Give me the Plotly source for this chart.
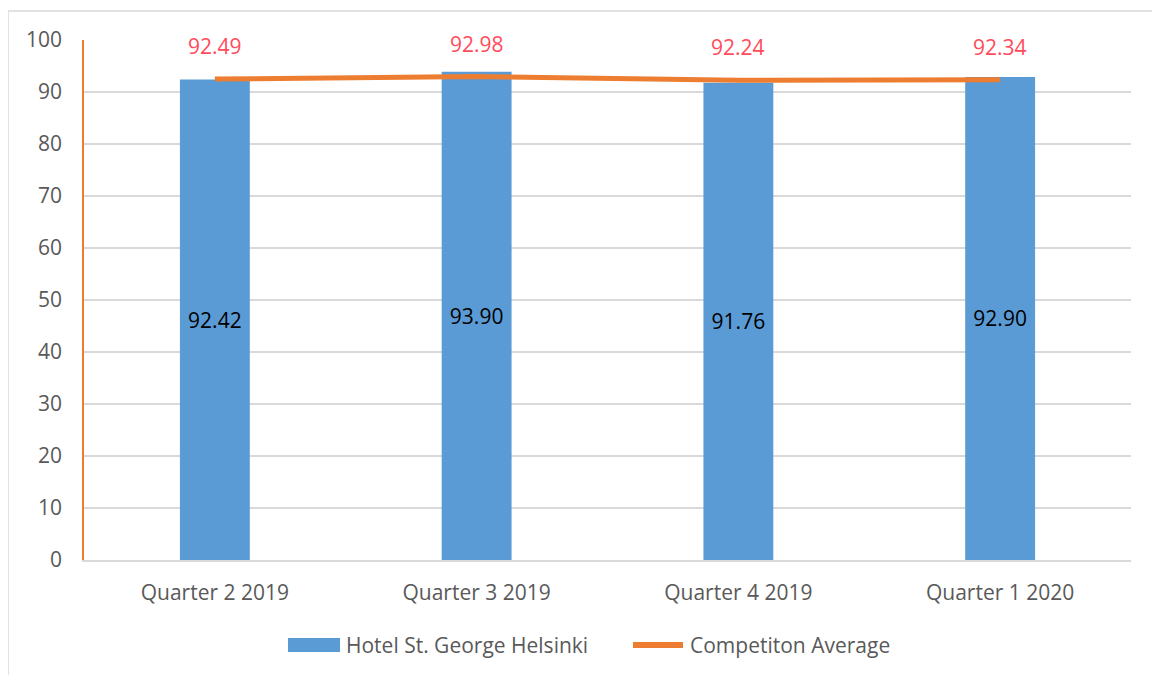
import plotly.graph_objects as go

categories = ["Quarter 2 2019", "Quarter 3 2019", "Quarter 4 2019", "Quarter 1 2020"]
hotel_values = [92.42, 93.90, 91.76, 92.90]
competition_values = [92.49, 92.98, 92.24, 92.34]
y_ticks = [0, 10, 20, 30, 40, 50, 60, 70, 80, 90, 100]
series_names = ["Hotel St. George Helsinki", "Competiton Average"]

FONT = "Open Sans"
BLUE = "#5B9BD5"
ORANGE = "#ED7D31"
RED = "#FF4B5C"
GRAY = "#595959"
FS = 21

# plot area in page pixels (for paper-coordinate conversion of legend/frame)
PX0, PX1, PY0, PY1 = 84, 1131, 40, 560
def px(x):
    return (x - PX0) / (PX1 - PX0)
def py(y):
    return (PY1 - y) / (PY1 - PY0)

fig = go.Figure()
fig.add_trace(go.Bar(
    x=categories, y=hotel_values, name=series_names[0],
    marker=dict(color=BLUE, line=dict(width=0)), width=0.267,
    text=[f"{v:.2f}" for v in hotel_values], textposition="inside",
    insidetextanchor="middle", textfont=dict(color="black", size=FS, family=FONT),
    textangle=0, showlegend=False,
))
fig.add_trace(go.Scatter(
    x=categories, y=competition_values, name=series_names[1],
    mode="lines", line=dict(color=ORANGE, width=5), showlegend=False,
))

for c, v in zip(categories, competition_values):
    fig.add_annotation(x=c, y=v, text=f"{v:.2f}", showarrow=False, yshift=33,
                       font=dict(color=RED, size=FS, family=FONT))

# chart frame
fig.add_shape(type="rect", xref="paper", yref="paper",
              x0=px(8), x1=px(1200), y0=py(720), y1=py(11),
              line=dict(color="#D9D9D9", width=1.5), layer="below")

# legend (custom, to match swatch sizes)
fig.add_shape(type="rect", xref="paper", yref="paper",
              x0=px(288), x1=px(340), y0=py(652), y1=py(638),
              fillcolor=BLUE, line=dict(width=0))
fig.add_annotation(xref="paper", yref="paper", x=px(344), y=py(645), text=series_names[0],
                   showarrow=False, xanchor="left", yanchor="middle",
                   font=dict(size=FS, color=GRAY, family=FONT))
fig.add_shape(type="line", xref="paper", yref="paper",
              x0=px(633), x1=px(683), y0=py(645), y1=py(645),
              line=dict(color=ORANGE, width=6))
fig.add_annotation(xref="paper", yref="paper", x=px(688), y=py(645), text=series_names[1],
                   showarrow=False, xanchor="left", yanchor="middle",
                   font=dict(size=FS, color=GRAY, family=FONT))

fig.update_layout(
    width=1152, height=667,
    margin=dict(l=76, r=29, t=32, b=115),
    paper_bgcolor="white", plot_bgcolor="white",
    font=dict(family=FONT, color=GRAY, size=FS),
    showlegend=False,
    xaxis=dict(showgrid=False, showline=True, linecolor="#D9D9D9", linewidth=1.5,
               ticks="", ticklabelstandoff=13, tickfont=dict(size=FS, color=GRAY)),
    yaxis=dict(range=[0, 100], tickvals=y_ticks, showgrid=True, gridcolor="#D9D9D9",
               gridwidth=1.5, zeroline=False, showline=True, linecolor=ORANGE, linewidth=1.5,
               ticks="", ticklabelstandoff=16, tickfont=dict(size=FS, color=GRAY)),
)
fig.write_html("out.html")
